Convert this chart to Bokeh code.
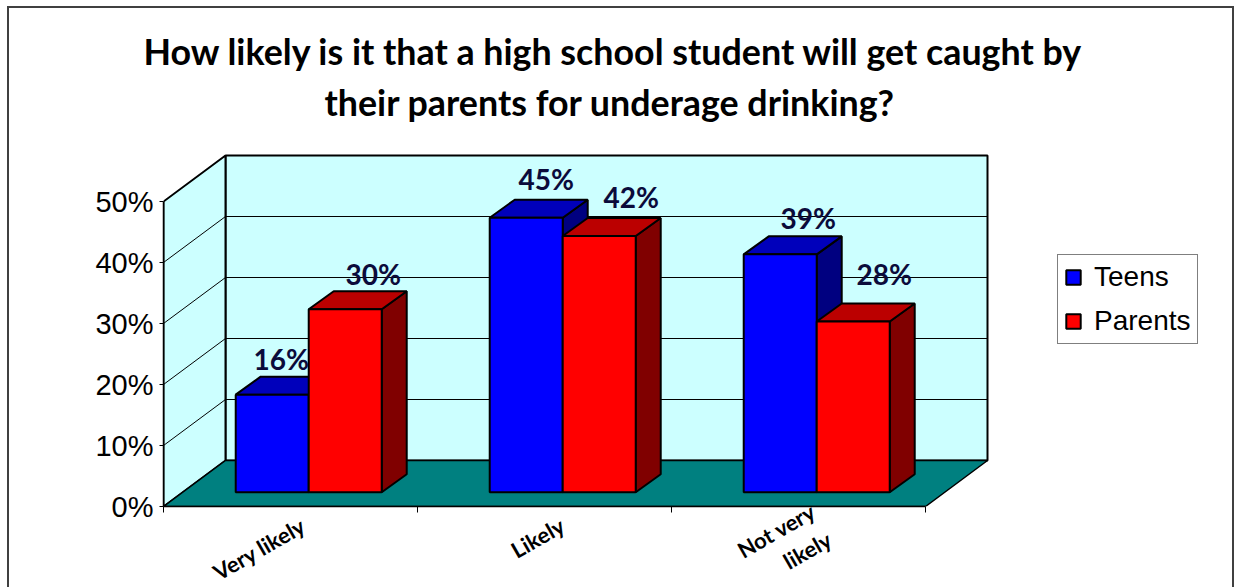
from bokeh.plotting import figure
from bokeh.models import (ColumnDataSource, FixedTicker, Legend, LegendItem,
                          LinearAxis, Range1d, Title)
from bokeh.core.properties import value
from bokeh.embed import file_html
from bokeh.resources import INLINE

title_lines = ["How likely is it that a high school student will get caught by",
               "their parents for underage drinking?"]
categories = ["Very likely", "Likely", "Not very\nlikely"]
teens = [16, 45, 39]
parents = [30, 42, 28]
y_ticks = [0, 10, 20, 30, 40, 50]

# scale of the front plane
PX_CAT, PX_PCT = 254.0, 6.1
FRAME_W, FRAME_H = 1072, 356

# depth vectors in data units
WALL_DX, WALL_DY = 62 / PX_CAT, 46 / PX_PCT
BAR_F = 0.31                       # bars stand this far into the floor
BAR_DX, BAR_DY = 25 / PX_CAT, 18 / PX_PCT
BAR_START, BAR_W = 53 / PX_CAT, 73 / PX_CAT
N = len(categories)
YMAX = y_ticks[-1]

# hand placement of the value labels, per series
nudge_x = [[-16, -5, 3], [3, 7, 6]]
nudge_y = [[-1, -4, -1], [0, -4, -12]]
# hand placement of the category labels along the axis
label_nudge = [0.55, 0.57, 0.59]

p = figure(frame_width=FRAME_W, frame_height=FRAME_H, output_backend="svg", toolbar_location=None,
           x_range=Range1d(0, FRAME_W / PX_CAT), y_range=Range1d(0, FRAME_H / PX_PCT),
           x_axis_type=None, y_axis_type=None, min_border_left=163, min_border_bottom=81,
           min_border_right=0, min_border_top=150, outline_line_color=None,
           background_fill_alpha=0, border_fill_alpha=0)
p.xgrid.visible = False
p.ygrid.visible = False

# outer chart frame, open at the bottom
LINE = "linear-gradient(#404040,#404040)"
p.styles = {"background": f"{LINE} 7px 6px/2px 100% no-repeat, "
                          f"{LINE} 7px 6px/1226px 2px no-repeat, "
                          f"{LINE} 1232px 6px/2px 100% no-repeat, white"}

# walls and floor
p.patch([WALL_DX, N + WALL_DX, N + WALL_DX, WALL_DX],
        [WALL_DY, WALL_DY, YMAX + WALL_DY, YMAX + WALL_DY],
        fill_color="#CCFFFF", line_color="black", line_width=2)
p.patch([0, WALL_DX, WALL_DX, 0], [0, WALL_DY, YMAX + WALL_DY, YMAX],
        fill_color="#CCFFFF", line_color="black", line_width=2)
p.patch([0, N, N + WALL_DX, WALL_DX], [0, 0, WALL_DY, WALL_DY],
        fill_color="#008080", line_color="black", line_width=1.5)
grid = y_ticks[1:-1]
p.multi_line([[0, WALL_DX, N + WALL_DX] for _ in grid],
             [[g, g + WALL_DY, g + WALL_DY] for g in grid],
             line_color="black", line_width=1)

# bars
x0 = BAR_F * WALL_DX
y0 = BAR_F * WALL_DY
front = {}
for s, (vals, c_front, c_top, c_side) in enumerate([(teens, "#0000FF", "#0000BB", "#000080"),
                                                    (parents, "#FF0000", "#BB0000", "#800000")]):
    left = [x0 + i + BAR_START + s * BAR_W for i in range(N)]
    right = [l + BAR_W for l in left]
    top = [y0 + v for v in vals]
    p.patches([[r, r + BAR_DX, r + BAR_DX, r] for r in right],
              [[y0, y0 + BAR_DY, t + BAR_DY, t] for t in top],
              fill_color=c_side, line_color="black", line_width=2)
    p.patches([[l, l + BAR_DX, r + BAR_DX, r] for l, r in zip(left, right)],
              [[t, t + BAR_DY, t + BAR_DY, t] for t in top],
              fill_color=c_top, line_color="black", line_width=2)
    front[s] = p.quad(left=left, right=right, bottom=y0, top=top,
                      fill_color=c_front, line_color="black", line_width=2)

    src = ColumnDataSource(dict(x=[(l + r) / 2 + BAR_DX for l, r in zip(left, right)],
                                y=[t + BAR_DY for t in top],
                                t=[f"{v}%" for v in vals],
                                dx=nudge_x[s], dy=nudge_y[s]))
    p.text("x", "y", text="t", source=src, x_offset="dx", y_offset="dy",
           text_font=value("Lato"), text_font_style="bold", text_font_size="28px",
           text_color="#0B0B3B", text_align="center", text_baseline="bottom")

# axes
ya = LinearAxis(ticker=FixedTicker(ticks=y_ticks), bounds=(0, YMAX))
ya.major_label_overrides = {v: f"{v}%" for v in y_ticks}
ya.major_label_text_font = "Liberation Sans"
ya.major_label_text_font_size = "29px"
ya.major_label_text_color = "black"
ya.axis_line_color = "black"
ya.axis_line_width = 1.5
ya.major_tick_in = 0
ya.major_tick_out = 4
ya.major_tick_line_color = "black"
ya.minor_tick_out = 0
ya.minor_tick_in = 0
ya.major_label_standoff = 6
p.add_layout(ya, "left")

label_pos = [i + d for i, d in enumerate(label_nudge)]
xa = LinearAxis(ticker=FixedTicker(ticks=label_pos, minor_ticks=list(range(N + 1))), bounds=(0, N))
xa.major_label_overrides = dict(zip(label_pos, categories))
xa.major_label_orientation = 0.52
xa.major_label_text_font = "Lato"
xa.major_label_text_font_style = "bold"
xa.major_label_text_font_size = "22px"
xa.major_label_text_color = "black"
xa.axis_line_color = "black"
xa.axis_line_width = 1.5
xa.major_tick_in = 0
xa.major_tick_out = 0
xa.minor_tick_in = 0
xa.minor_tick_out = 6
xa.minor_tick_line_color = "black"
xa.major_label_standoff = 11
p.add_layout(xa, "below")

# title
t2 = Title(text=title_lines[1], align="left", offset=161, text_font="Lato", text_font_style="bold",
           text_font_size="35.8px", text_color="black", standoff=53)
t1 = Title(text=title_lines[0], align="left", offset=-20, text_font="Lato", text_font_style="bold",
           text_font_size="35.8px", text_color="black", standoff=-41)
p.add_layout(t2, "above")
p.add_layout(t1, "above")

# legend
legend = Legend(items=[LegendItem(label="Teens", renderers=[front[0]]),
                       LegendItem(label="Parents", renderers=[front[1]])],
                location=(894, 162), orientation="vertical",
                label_text_font="Liberation Sans", label_text_font_size="28px",
                label_text_color="black", glyph_width=18, glyph_height=18,
                border_line_color="black", border_line_width=1, background_fill_color="white",
                background_fill_alpha=1, padding=6, margin=0, spacing=12, label_standoff=12)
p.add_layout(legend, "center")

open("out.html", "w").write(file_html(p, INLINE))
